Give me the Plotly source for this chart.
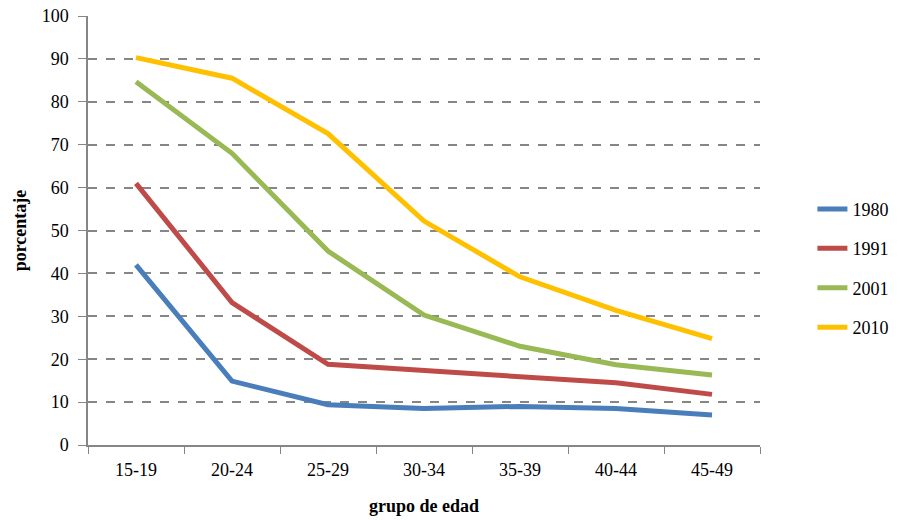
import plotly.graph_objects as go

categories = ["15-19", "20-24", "25-29", "30-34", "35-39", "40-44", "45-49"]
series_names = ["1980", "1991", "2001", "2010"]
v1980 = [42.0, 14.9, 9.4, 8.5, 9.0, 8.5, 7.0]
v1991 = [61.0, 33.2, 18.8, 17.3, 16.0, 14.5, 11.8]
v2001 = [84.7, 68.0, 45.2, 30.3, 23.0, 18.7, 16.3]
v2010 = [90.3, 85.5, 72.6, 52.2, 39.2, 31.4, 24.8]
colors = ["#4A7EBB", "#BE4B48", "#98B954", "#FFC000"]
y_ticks = list(range(0, 101, 10))

fig = go.Figure()
for i, (name, vals) in enumerate(zip(series_names, [v1980, v1991, v2001, v2010])):
    fig.add_trace(go.Scatter(
        x=categories, y=vals, name=name, mode="lines",
        line=dict(color=colors[i], width=5), legendgroup=name,
    ))

font = "Liberation Serif, Times New Roman, serif"
tf = dict(family=font, size=18, color="black")
fig.update_layout(
    width=906, height=520,
    margin=dict(l=88, r=146, t=16, b=75),
    paper_bgcolor="white", plot_bgcolor="white",
    font=dict(family=font, size=18, color="black"),
    showlegend=True,
    legend=dict(x=1.078, y=0.412, xanchor="left", yanchor="middle",
                font=tf, tracegroupgap=13,
                bgcolor="rgba(0,0,0,0)"),
    xaxis=dict(
        type="category", range=[-0.5, 6.5], automargin=False,
        showline=True, linecolor="#868686", linewidth=1.5,
        ticks="outside", tickson="boundaries", ticklen=7, tickcolor="#868686",
        showgrid=False, tickfont=tf, ticklabelstandoff=8,
        title=dict(text="<b>grupo de edad</b>", font=tf, standoff=20),
    ),
    yaxis=dict(
        range=[0, 100], tickvals=y_ticks, automargin=False,
        showline=True, linecolor="#868686", linewidth=1.5,
        ticks="outside", ticklen=8, tickcolor="#868686",
        showgrid=True, gridcolor="#868686", griddash="dash", gridwidth=1.5,
        zeroline=False, tickfont=tf, ticklabelstandoff=6,
        title=dict(text="<b>porcentaje</b>", font=tf, standoff=10),
    ),
)

fig.write_html("out.html")
